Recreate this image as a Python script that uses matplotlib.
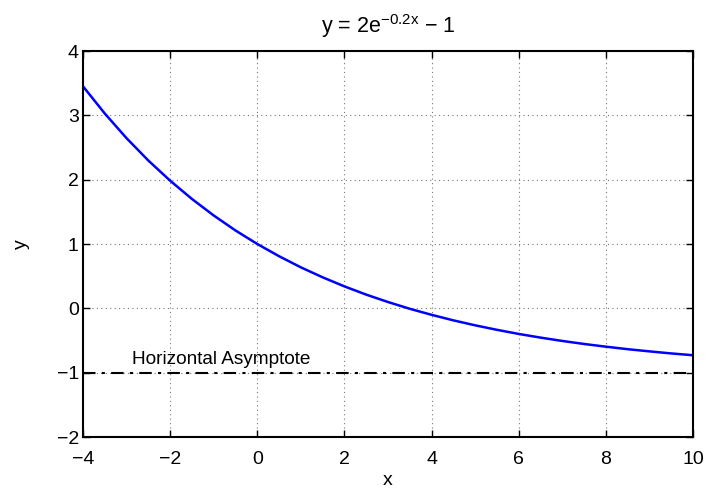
import numpy as np
import matplotlib.pyplot as plt

plt.rcParams['font.family'] = ['Liberation Sans', 'DejaVu Sans']

# points
x = [-4, -3.5, -3, -2.5, -2, -1.5, -1, -0.5, 0, 0.5, 1, 1.5, 2, 2.5, 3, 3.5,
     4, 4.5, 5, 5.5, 6, 6.5, 7, 7.5, 8, 8.5, 9, 9.5, 10]
y = [3.451, 3.028, 2.644, 2.297, 1.984, 1.700, 1.443, 1.210, 1.0, 0.810, 0.637,
     0.482, 0.341, 0.213, 0.098, -0.007, -0.101, -0.187, -0.264, -0.334, -0.398,
     -0.455, -0.507, -0.554, -0.596, -0.635, -0.669, -0.701, -0.729]
asym_x = [-4, 10]
asym_y = [-1, -1]

fig = plt.figure(figsize=(7.06, 4.91), dpi=100)
ax = fig.add_axes([83/706, 1-437/491, 610/706, 386/491])

ax.plot(x, y, color='#0000ff', lw=1.8)
ax.plot(asym_x, asym_y, color='black', lw=1.5, ls='-.', dashes=(6, 3, 1.5, 3))
ax.text(-2.87, -0.87, 'Horizontal Asymptote', fontsize=13.7)

ax.set_xlim(-4, 10)
ax.set_ylim(-2, 4)
ax.set_xticks(np.arange(-4, 11, 2))
ax.set_yticks(np.arange(-2, 5, 1))
ax.set_xticklabels(['\u22124', '\u22122', '0', '2', '4', '6', '8', '10'])
ax.set_yticklabels(['\u22122', '\u22121', '0', '1', '2', '3', '4'])
ax.tick_params(direction='in', top=True, right=True, length=5, width=1,
               labelsize=14, pad=3)
ax.tick_params(axis='x', pad=10)
ax.grid(True, color='#777777', ls=(0, (1, 3)), lw=0.8)
for s in ax.spines.values():
    s.set_linewidth(1.5)

ax.set_xlabel('x', fontsize=14, labelpad=3)
ax.set_ylabel('y', fontsize=14, labelpad=19)
ax.set_title('y = 2e$^{\\mathregular{\u22120.2x}}$ \u2212 1', fontsize=15.5, pad=13)

fig.savefig('out.png', dpi=100)
